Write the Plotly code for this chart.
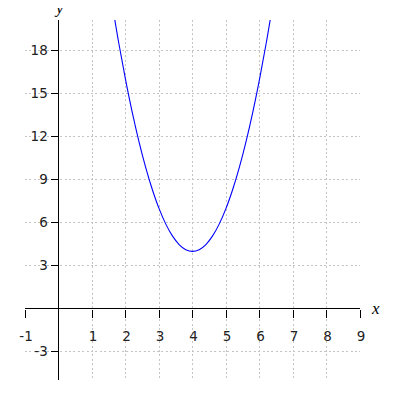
import plotly.graph_objects as go

# curve samples
curve_x = [1.6, 1.8, 2.0, 2.2, 2.4, 2.6, 2.8, 3.0, 3.2, 3.4, 3.6, 3.8, 4.0,
           4.2, 4.4, 4.6, 4.8, 5.0, 5.2, 5.4, 5.6, 5.8, 6.0, 6.2, 6.4]
curve_y = [21.28, 18.52, 16.0, 13.72, 11.68, 9.88, 8.32, 7.0, 5.92, 5.08, 4.48, 4.12, 4.0,
           4.12, 4.48, 5.08, 5.92, 7.0, 8.32, 9.88, 11.68, 13.72, 16.0, 18.52, 21.28]

x_ticks = [-1, 1, 2, 3, 4, 5, 6, 7, 8, 9]
y_ticks = [-3, 3, 6, 9, 12, 15, 18]

x_range = [-1, 9]
y_range = [-4.97, 20.14]

fig = go.Figure()
fig.add_trace(go.Scatter(x=curve_x, y=curve_y, mode="lines", line_shape="spline",
                         line=dict(color="#0000ff", width=1.1), hoverinfo="skip"))

x_pos = (0 - y_range[0]) / (y_range[1] - y_range[0])
y_pos = (0 - x_range[0]) / (x_range[1] - x_range[0])

tickfont = dict(family="DejaVu Sans", size=13.5, color="#222222")
grid = dict(showgrid=True, gridcolor="#c4c4c4", griddash="2px,2.4px", gridwidth=1)

fig.update_layout(
    width=400, height=400,
    margin=dict(l=17, r=48, t=12, b=28),
    paper_bgcolor="white", plot_bgcolor="white",
    showlegend=False,
    xaxis=dict(range=x_range, tickvals=x_ticks, ticktext=[str(v) for v in x_ticks],
               anchor="free", position=x_pos, side="bottom", automargin=False,
               showline=False, zeroline=True, zerolinecolor="#000000", zerolinewidth=1.3,
               ticks="outside", ticklen=8, tickwidth=1.3, tickcolor="#000000",
               tickfont=tickfont, ticklabelstandoff=7, ticklabelshift=1,
               fixedrange=True, **grid),
    yaxis=dict(range=y_range, tickvals=y_ticks, ticktext=[str(v) for v in y_ticks],
               anchor="free", position=y_pos, side="left", automargin=False,
               showline=False, zeroline=True, zerolinecolor="#000000", zerolinewidth=1.3,
               ticks="outside", ticklen=8, tickwidth=1.3, tickcolor="#000000",
               tickfont=tickfont, ticklabelstandoff=0, fixedrange=True, **grid),
    annotations=[
        dict(x=9, y=0, xref="x", yref="y", text="<i>x</i>", showarrow=False,
             xanchor="left", yanchor="middle", xshift=9, yshift=0,
             font=dict(family="Liberation Serif", size=17, color="#000000")),
        dict(x=0, y=1, xref="x", yref="paper", text="<i>y</i>", showarrow=False,
             xanchor="center", yanchor="bottom", yshift=1,
             font=dict(family="Liberation Serif", size=17, color="#000000")),
    ],
)

fig.write_html("out.html")
